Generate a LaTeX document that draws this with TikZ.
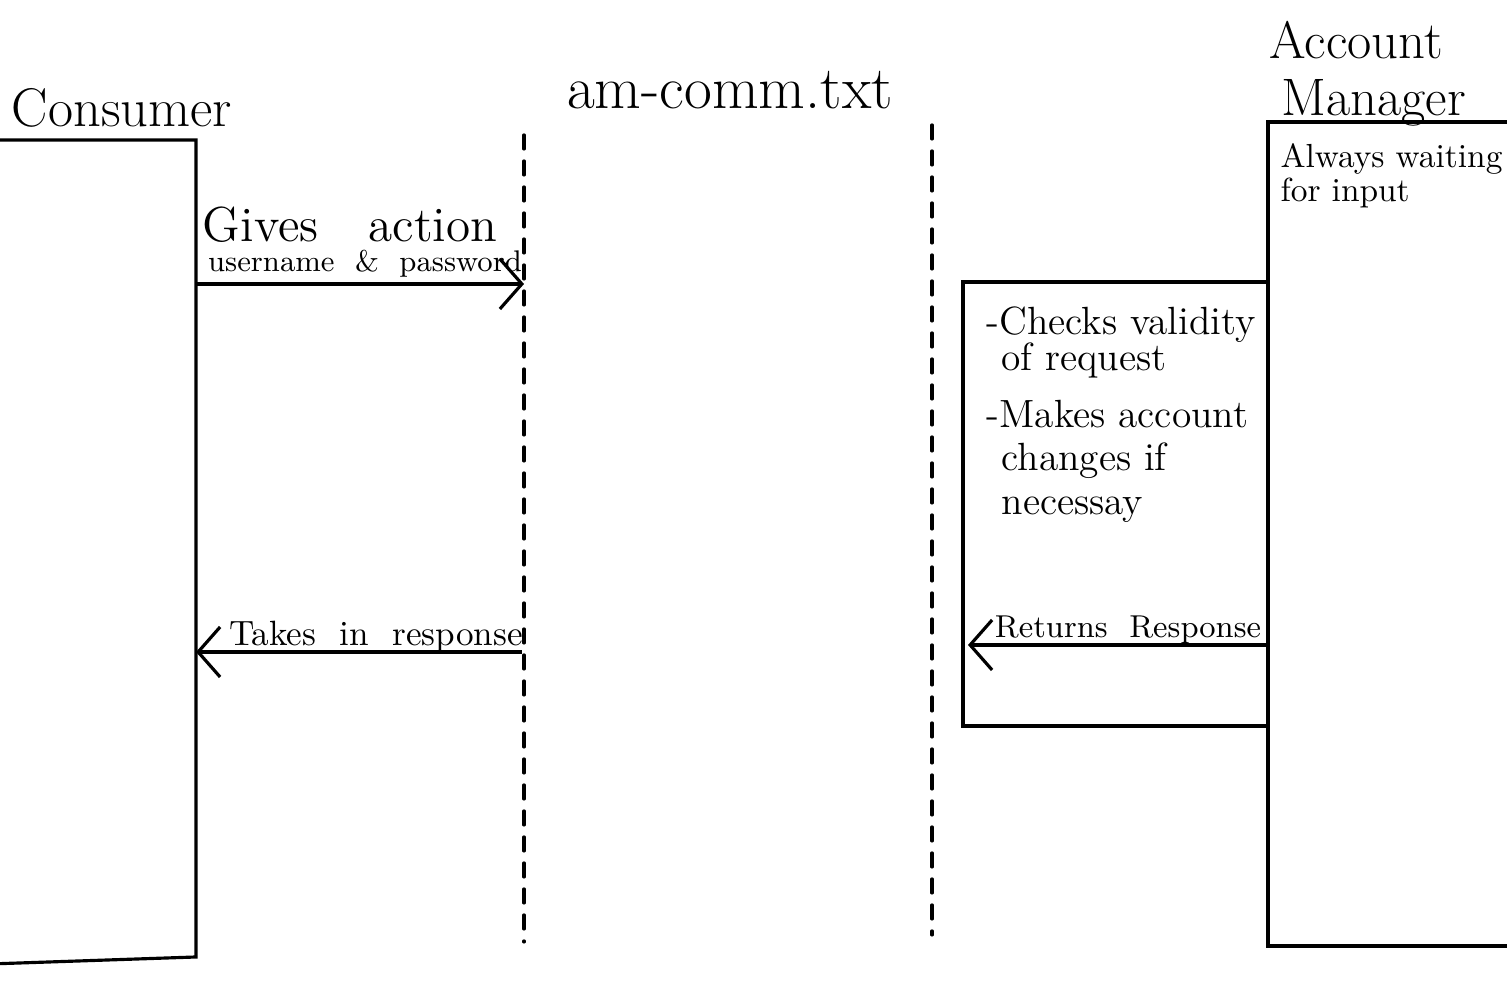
\documentclass[tikz,border=0pt]{standalone}
\usetikzlibrary{arrows.meta}

\begin{document}
\begin{tikzpicture}[
		line width=0.9pt,
		lifeline/.style={dash pattern=on 0.14cm off 0.12cm, line cap=round},
		msg/.style={-{Straight Barb[length=0.22cm,width=0.5cm]}},
		title/.style={font=\fontsize{15.5}{13.5}\selectfont, inner sep=0pt},
		label/.style={font=\fontsize{10}{11}\selectfont, inner sep=0pt},
		note/.style={font=\fontsize{11.2}{12.3}\selectfont, align=left, inner sep=0pt}
	]
	\clip (0,0) rectangle (15.07,10);
	
	\node[title] (consumer) at (1.22,8.92) {Consumer};
	\draw (-0.1,8.60) -- (1.96,8.60) -- (1.96,0.43) -- (-0.1,0.36);
	\coordinate (cons-out) at (1.96,7.16);
	\coordinate (cons-in) at (1.96,3.48);
	
	\node[title, font=\fontsize{17.2}{18}\selectfont] (file) at (7.3,9.1) {am-comm.txt};
	\coordinate (file-top) at (5.24,8.65);
	\coordinate (file-bot) at (5.24,0.58);
	\draw[lifeline] (file-top) -- (file-bot);
	\coordinate (file-in) at (5.24,7.16);
	\coordinate (file-out) at (5.22,3.48);
	
	\coordinate (mgr-top) at (9.32,8.75);
	\coordinate (mgr-bot) at (9.32,0.65);
	\draw[lifeline] (mgr-top) -- (mgr-bot);
	
	\node[title, font=\fontsize{15}{16}\selectfont, align=left, anchor=north west] (manager) at (12.68,9.8) {Account\\\hspace{0.12cm}Manager};
	\draw (15.2,8.78) -- (12.68,8.78) -- (12.68,0.54) -- (15.2,0.54);
	\node[font=\fontsize{9.5}{8.5}\selectfont, align=left, inner sep=0pt, anchor=north west] (waiting) at (12.79,8.58) {Always waiting\\for input};
	
	\draw (12.68,7.18) -- (9.63,7.18) -- (9.63,2.74) -- (12.68,2.74);
	\node[note, anchor=north west] (checks) at (9.85,6.95) {-Checks validity\\[-2pt]\hspace{0.15cm}of request\\[4pt]-Makes account\\\hspace{0.15cm}changes if\\\hspace{0.15cm}necessay};
	\coordinate (proc-out) at (12.68,3.55);
	\coordinate (proc-in) at (9.68,3.55);
	
	\draw[msg] (cons-out) -- (file-in);
	\node[font=\fontsize{14}{15}\selectfont, inner sep=0pt] (gives) at (3.5,7.75) {Gives\hspace{0.5cm}action};
	\node[font=\fontsize{8.5}{9}\selectfont, inner sep=0pt] (creds) at (3.65,7.36) {username \ \& \ password};
	
	\draw[msg] (file-out) -- (cons-in);
	\node[label] (takes) at (3.76,3.63) {Takes \ in \ response};
	
	\draw[msg] (proc-out) -- (proc-in);
	\node[label, font=\fontsize{9}{10}\selectfont] (returns) at (11.28,3.7) {Returns \ Response};
\end{tikzpicture}
\end{document}
